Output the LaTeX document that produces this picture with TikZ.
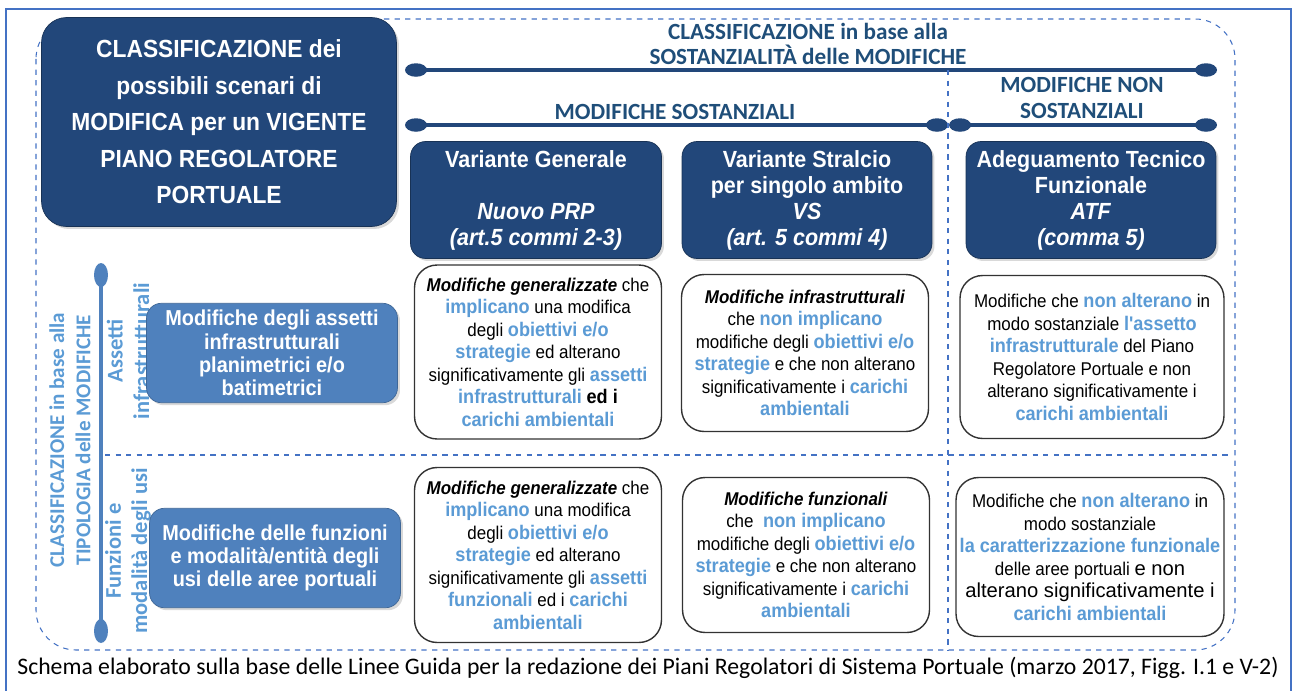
\documentclass[tikz,border=0pt]{standalone}
\usepackage{fontspec}
\setmainfont{Liberation Sans}
\newfontfamily\narrow{Liberation Sans}[FakeStretch=0.92]
\newfontfamily\calib{Carlito}
\usetikzlibrary{shapes.geometric,shadows}

\definecolor{navy}{HTML}{22477A}
\definecolor{midblue}{HTML}{4F81BD}
\definecolor{skyblue}{HTML}{5B9BD5}
\definecolor{frameblue}{HTML}{4472C4}
\definecolor{headblue}{HTML}{1F4E79}

\newcommand{\hl}[1]{{\fontsize{11.2}{12.8}\selectfont\bfseries\color{skyblue}#1}}
\newcommand{\kw}[1]{\textbf{\textit{#1}}}

\begin{document}
\begin{tikzpicture}[x=0.02cm,y=-0.02cm,
  bigbox/.style={rounded corners=0.5cm,fill=navy,draw=navy!70!black,text=white,inner sep=0,
    align=center,font=\narrow\bfseries\fontsize{14.1}{20.8}\selectfont,
    drop shadow={opacity=0.3,shadow xshift=0.05cm,shadow yshift=-0.05cm}},
  headbox/.style={rounded corners=0.3cm,fill=navy,draw=navy!70!black,text=white,inner sep=0,
    align=center,font=\narrow\bfseries\fontsize{13.3}{14.8}\selectfont,
    minimum width=5cm,minimum height=2.34cm,
    drop shadow={opacity=0.3,shadow xshift=0.05cm,shadow yshift=-0.05cm}},
  typebox/.style={rounded corners=0.3cm,fill=midblue,draw=midblue!80!black,text=white,inner sep=0,
    align=center,font=\narrow\bfseries\fontsize{12.3}{13.2}\selectfont,
    minimum width=5.02cm,minimum height=1.99cm,
    drop shadow={opacity=0.3,shadow xshift=0.05cm,shadow yshift=-0.05cm}},
  cellbox/.style={rounded corners=0.45cm,draw=black!80,line width=0.8pt,fill=white,inner sep=0,
    align=center,font=\narrow\fontsize{10.5}{12.8}\selectfont},
  knob/.style={ellipse,fill=navy,minimum width=0.44cm,minimum height=0.27cm,inner sep=0},
  vknob/.style={ellipse,fill=midblue,minimum width=0.28cm,minimum height=0.48cm,inner sep=0},
  bar/.style={navy,line width=0.08cm},
  sep/.style={frameblue,dashed,line width=0.6pt},
  title/.style={text=headblue,align=center,font=\calib\bfseries\fontsize{13.2}{14.4}\selectfont},
  sidelabel/.style={text=skyblue,align=center,rotate=90,font=\calib\bfseries\fontsize{12}{15}\selectfont}]

\useasboundingbox (0,0) rectangle (1295,690);
\draw[frameblue,line width=1pt] (6,695) -- (6,9) -- (1291,9) -- (1291,695);
\draw[frameblue,dashed,line width=0.6pt,rounded corners=0.8cm] (36,19) rectangle (1235,650);

% main title box
\node[bigbox,minimum width=7.1cm,minimum height=4.18cm] (main) at (219,122)
  {CLASSIFICAZIONE dei\\possibili scenari di\\MODIFICA per un VIGENTE\\PIANO REGOLATORE\\PORTUALE};

% upper classification
\node[title] (sost) at (808,44) {CLASSIFICAZIONE in base alla\\SOSTANZIALIT\`A delle MODIFICHE};
\node[title] (sostyes) at (675,112) {MODIFICHE SOSTANZIALI};
\node[title] (sostno) at (1082,98) {MODIFICHE NON\\SOSTANZIALI};

\node[knob] (t1l) at (416,70) {};
\node[knob] (t1r) at (1206,70) {};
\node[knob] (t2l) at (416,125) {};
\node[knob] (t2r) at (937,125) {};
\node[knob] (t3l) at (960,125) {};
\node[knob] (t3r) at (1206,125) {};
\draw[bar] (t1l.center) -- (t1r.center);
\draw[bar] (t2l.center) -- (t2r.center);
\draw[bar] (t3l.center) -- (t3r.center);

% separators
\coordinate (vtop) at (948,70);
\coordinate (vbot) at (948,650);
\coordinate (hleft) at (105,455);
\coordinate (hright) at (1228,455);
\draw[sep] (vtop) -- (vbot);
\draw[sep] (hleft) -- (hright);

% column heads
\node[headbox,minimum width=5.02cm] (gen) at (536,200) {Variante Generale\\ \strut\\\textit{Nuovo PRP}\\\textit{(art.5 commi 2-3)}};
\node[headbox] (vs) at (807,200) {Variante Stralcio\\per singolo ambito\\\textit{VS}\\\textit{(art. 5 commi 4)}};
\node[headbox] (atf) at (1091,200) {Adeguamento Tecnico\\Funzionale\\\textit{ATF}\\\textit{(comma 5)}};

% lower classification
\node[sidelabel] (tipo) at (70,440) {CLASSIFICAZIONE in base alla\\TIPOLOGIA delle MODIFICHE};
\node[vknob] (v1t) at (101,275) {};
\node[vknob] (v1b) at (101,631) {};
\draw[midblue,line width=0.08cm] (v1t.center) -- (v1b.center);
\node[sidelabel,font=\calib\bfseries\fontsize{12.8}{15}\selectfont] (ass) at (128,351) {Assetti\\infrastrutturali};
\node[sidelabel,font=\calib\bfseries\fontsize{12.8}{15}\selectfont] (fun) at (128,551) {Funzioni e\\modalit\`a degli usi};

\node[typebox] (infra) at (272,353) {Modifiche degli assetti\\infrastrutturali\\planimetrici e/o\\batimetrici};
\node[typebox] (usi) at (275,558) {Modifiche delle funzioni\\e modalit\`a/entit\`a degli\\usi delle aree portuali};

% row 1
\node[cellbox,minimum width=4.94cm,minimum height=3.48cm] (c11) at (538,352)
  {\kw{Modifiche generalizzate} che\\\hl{implicano} una modifica\\degli \hl{obiettivi e/o}\\\hl{strategie} ed alterano\\
   significativamente gli \hl{assetti}\\\hl{infrastrutturali} {\fontsize{11.2}{12.8}\selectfont\bfseries ed i}\\\hl{carichi ambientali}};
\node[cellbox,minimum width=4.94cm,minimum height=3.14cm] (c12) at (805,353)
  {\kw{Modifiche infrastrutturali}\\che \hl{non implicano}\\modifiche degli \hl{obiettivi e/o}\\
   \hl{strategie} e che non alterano\\significativamente i \hl{carichi}\\\hl{ambientali}};
\node[cellbox,minimum width=5.28cm,minimum height=3.26cm] (c13) at (1092,357)
  {Modifiche che \hl{non alterano} in\\modo sostanziale \hl{l'assetto}\\\hl{infrastrutturale} del Piano\\
   Regolatore Portuale e non\\alterano significativamente i\\\hl{carichi ambientali}};

% row 2
\node[cellbox,minimum width=4.94cm,minimum height=3.5cm] (c21) at (538,555)
  {\kw{Modifiche generalizzate} che\\\hl{implicano} una modifica\\degli \hl{obiettivi e/o}\\\hl{strategie} ed alterano\\
   significativamente gli \hl{assetti}\\\hl{funzionali} ed i \hl{carichi}\\\hl{ambientali}};
\node[cellbox,minimum width=4.94cm,minimum height=3.1cm] (c22) at (806,555)
  {\kw{Modifiche funzionali}\\che \ \hl{non implicano}\\modifiche degli \hl{obiettivi e/o}\\
   \hl{strategie} e che non alterano\\significativamente i \hl{carichi}\\\hl{ambientali}};
\node[cellbox,minimum width=5.36cm,minimum height=3.18cm] (c23) at (1090,557)
  {Modifiche che \hl{non alterano} in\\modo sostanziale\\\hl{la caratterizzazione funzionale}\\
   delle aree portuali {\rmfamily\fontsize{11.5}{12.8}\selectfont e non}\\
   {\rmfamily\fontsize{11.5}{12.8}\selectfont alterano significativamente i}\\\hl{carichi ambientali}};

% source
\node[font=\calib\fontsize{13.5}{15}\selectfont] (src) at (648,668)
  {Schema elaborato sulla base delle Linee Guida per la redazione dei Piani Regolatori di Sistema Portuale (marzo 2017, Figg. I.1 e V-2)};
\end{tikzpicture}
\end{document}
